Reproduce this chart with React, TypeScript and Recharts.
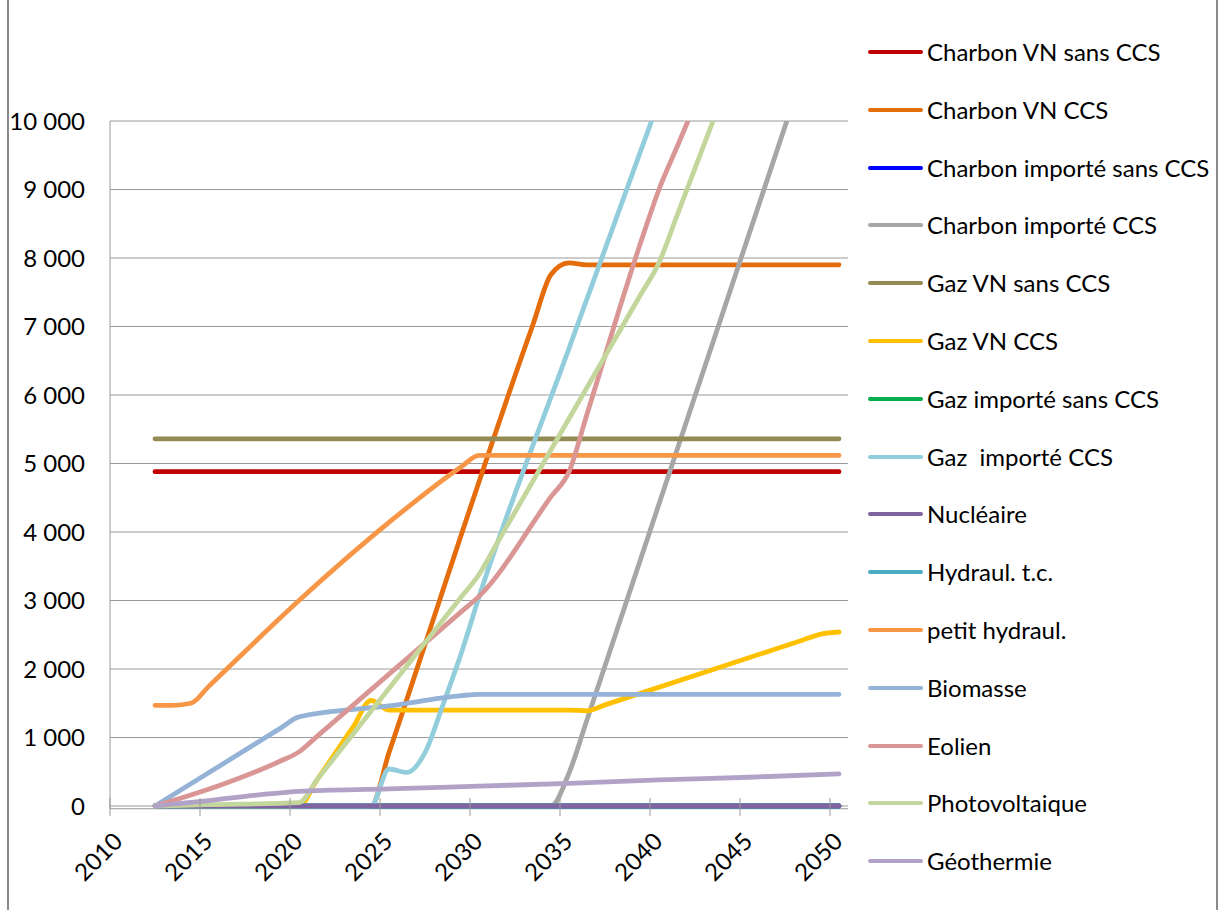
import React from "react";
import { LineChart, Line, XAxis, YAxis, CartesianGrid } from "recharts";

type Pt = [number, number];

// points (x = position on the year axis, y = value)
const charbonVnSansCcs: Pt[] = [[2012.5, 4880], [2050.5, 4880]];
const charbonVnCcs: Pt[] = [
  [2012.5, 0], [2024.5, 0], [2025.5, 780], [2033.5, 7030], [2034.5, 7760],
  [2035.5, 7930], [2036.5, 7900], [2050.5, 7900],
];
const charbonImporteSansCcs: Pt[] = [[2012.5, 0], [2050.5, 0]];
const charbonImporteCcs: Pt[] = [
  [2012.5, 0], [2034.5, 0], [2035.5, 480], [2036.5, 1260], [2047.5, 9920], [2048.5, 10700],
];
const gazVnSansCcs: Pt[] = [[2012.5, 5360], [2050.5, 5360]];
const gazVnCcs: Pt[] = [
  [2012.5, 0], [2020.5, 0], [2021.5, 380], [2023.5, 1150], [2024.5, 1540], [2025.5, 1400],
  [2035.5, 1400], [2036.5, 1390], [2037.5, 1476], [2048.5, 2424], [2049.5, 2510], [2050.5, 2540],
];
const gazImporteSansCcs: Pt[] = [[2012.5, 0], [2050.5, 0]];
const gazImporteCcs: Pt[] = [
  [2012.5, 0], [2024.5, 0], [2025.5, 540], [2026.5, 490], [2027.5, 780], [2028.5, 1480],
  [2029.5, 2220], [2030.5, 3050], [2035.5, 6680], [2040.5, 10300],
];
const nucleaire: Pt[] = [[2012.5, 0], [2050.5, 0]];
const hydraulTc: Pt[] = [[2012.5, 0], [2050.5, 0]];
const petitHydraul: Pt[] = [
  [2012.5, 1470], [2013.5, 1470], [2014.5, 1500], [2015.5, 1750], [2020.5, 3000],
  [2025.5, 4140], [2029.5, 4950], [2030.5, 5120], [2050.5, 5120],
];
const biomasse: Pt[] = [
  [2012.5, 0], [2019.5, 1140], [2020.5, 1300], [2025.5, 1460], [2029.5, 1610],
  [2030.5, 1630], [2050.5, 1630],
];
const eolien: Pt[] = [
  [2012.5, 0], [2016.5, 340], [2019.5, 660], [2020.5, 790], [2021.5, 1017], [2029.5, 2833],
  [2030.5, 3060], [2034.5, 4516], [2035.5, 4880], [2036.5, 5720], [2039.5, 8240],
  [2040.5, 9000], [2041.5, 9620], [2042.5, 10240],
];
const photovoltaique: Pt[] = [
  [2012.5, 0], [2015.5, 20], [2020.5, 50], [2021.5, 383], [2029.5, 3047], [2030.5, 3380],
  [2031.5, 3835], [2039.5, 7475], [2040.5, 7930], [2041.5, 8620], [2044.5, 10690],
];
const geothermie: Pt[] = [
  [2012.5, 0], [2015.5, 80], [2018.5, 170], [2020.5, 215], [2025.5, 250], [2030.5, 290],
  [2035.5, 330], [2040.5, 380], [2045.5, 420], [2050.5, 470],
];

const series = [
  { name: "Charbon VN sans CCS", color: "#C00000", points: charbonVnSansCcs },
  { name: "Charbon VN CCS", color: "#E46C0A", points: charbonVnCcs },
  { name: "Charbon importé sans CCS", color: "#0000FF", points: charbonImporteSansCcs },
  { name: "Charbon importé CCS", color: "#A6A6A6", points: charbonImporteCcs },
  { name: "Gaz VN sans CCS", color: "#948A54", points: gazVnSansCcs },
  { name: "Gaz VN CCS", color: "#FFC000", points: gazVnCcs },
  { name: "Gaz importé sans CCS", color: "#00B050", points: gazImporteSansCcs },
  { name: "Gaz  importé CCS", color: "#92CDDC", points: gazImporteCcs },
  { name: "Nucléaire", color: "#8064A2", points: nucleaire },
  { name: "Hydraul. t.c.", color: "#4BACC6", points: hydraulTc },
  { name: "petit hydraul.", color: "#F79646", points: petitHydraul },
  { name: "Biomasse", color: "#95B3D7", points: biomasse },
  { name: "Eolien", color: "#D99694", points: eolien },
  { name: "Photovoltaique", color: "#C3D69B", points: photovoltaique },
  { name: "Géothermie", color: "#B3A2C7", points: geothermie },
];

// nucléaire sits on top of the other zero lines in the original
const drawOrder = [0, 1, 2, 3, 4, 5, 6, 7, 9, 8, 10, 11, 12, 13, 14];

const xTicks = [2010, 2015, 2020, 2025, 2030, 2035, 2040, 2045, 2050];
const yTicks = [0, 1000, 2000, 3000, 4000, 5000, 6000, 7000, 8000, 9000, 10000];

const FONT = "Lato, 'Noto Sans', sans-serif";
const GRID = "#9a9a9a";
const AXIS_Y = 806;

const fmt = (v: number) => String(v).replace(/\B(?=(\d{3})+(?!\d))/g, " ");

const XTick = (props: any) => {
  const { x, payload } = props;
  const ax = x + 14;
  const ay = AXIS_Y + 37;
  return (
    <g>
      <line x1={x} x2={x} y1={AXIS_Y - 8} y2={AXIS_Y + 10} stroke={GRID} />
      <text
        x={ax}
        y={ay}
        transform={`rotate(-45 ${ax} ${ay})`}
        textAnchor="end"
        fontSize={24}
        fontFamily={FONT}
        fill="#000"
      >
        {payload.value}
      </text>
    </g>
  );
};

const App = () => {
  return (
    <div style={{ position: "absolute", left: 0, top: 0, width: 1226, height: 910, background: "#fff", overflow: "hidden", fontFamily: FONT }}>
      <div
        style={{
          position: "absolute",
          left: 7,
          top: -4,
          width: 1207,
          height: 920,
          borderLeft: "2px solid #8a8a8a",
          borderRight: "2px solid #8a8a8a",
        }}
      />
      <div style={{ position: "absolute", left: 0, top: 0 }}>
        <LineChart width={1226} height={910} margin={{ top: 121, right: 378, bottom: 0, left: 0 }}>
          <CartesianGrid vertical={false} stroke={GRID} />
          <XAxis
            type="number"
            dataKey="x"
            domain={[2010, 2051]}
            ticks={xTicks}
            interval={0}
            axisLine={false}
            tickLine={false}
            tick={<XTick />}
            height={101.26}
          />
          <YAxis
            type="number"
            domain={[-40, 10000]}
            allowDataOverflow
            ticks={yTicks}
            interval={0}
            width={110}
            axisLine={{ stroke: GRID }}
            tickLine={false}
            tickSize={0}
            tickMargin={25}
            tickFormatter={fmt}
            tick={{ fill: "#000", fontSize: 24, fontFamily: FONT }}
          />
          {drawOrder.map((i) => {
            const s = series[i];
            return (
              <Line
                key={s.name}
                name={s.name}
                data={s.points.map(([x, y]) => ({ x, y }))}
                dataKey="y"
                type="monotone"
                stroke={s.color}
                strokeWidth={4.8}
                strokeLinecap="round"
                dot={false}
                activeDot={false}
                isAnimationActive={false}
              />
            );
          })}
        </LineChart>
      </div>
      {series.map((s, i) => (
        <div
          key={s.name}
          style={{
            position: "absolute",
            left: 868,
            top: 52 + i * 57.8 - 15,
            height: 30,
            display: "flex",
            alignItems: "center",
            whiteSpace: "pre",
          }}
        >
          <div style={{ width: 55, height: 4, borderRadius: 2, background: s.color }} />
          <span style={{ marginLeft: 4, fontSize: 24, color: "#000", lineHeight: "30px" }}>{s.name}</span>
        </div>
      ))}
    </div>
  );
};

export default App;
